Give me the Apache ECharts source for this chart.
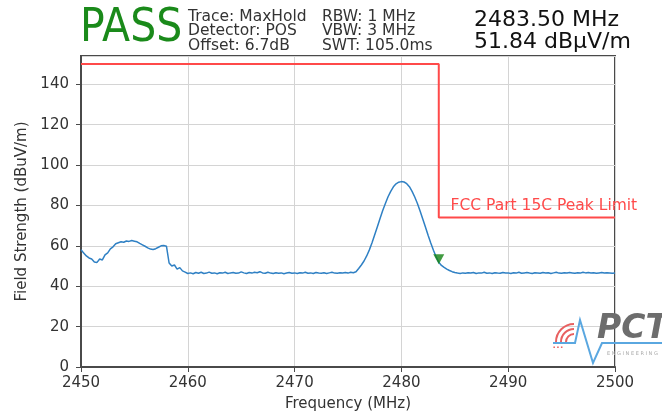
<!DOCTYPE html>
<html>
<head>
<meta charset="utf-8">
<script src="https://cdn.jsdelivr.net/npm/echarts@6/dist/echarts.min.js"></script>
<style>
  html, body { margin: 0; padding: 0; background: #fff; }
  #chart { width: 662px; height: 415px; }
</style>
</head>
<body>
<div id="chart"></div>
<script>
// Sweep settings (MHz)
const freqStart = 2450;
const freqStep = 0.25;

// MaxHold trace levels in dBuV/m, one per sweep point from 2450 to 2500 MHz
const traceLevels = [
  // 2450.00 - 2460.00
  58.0, 56.5, 55.0, 54.0, 53.5, 52.0, 51.8, 53.5, 53.0, 55.5,
  56.5, 58.5, 59.5, 61.0, 61.5, 62.0, 61.8, 62.4, 62.2, 62.6,
  62.3, 62.0, 61.2, 60.5, 59.8, 59.0, 58.4, 58.2, 58.6, 59.3,
  60.0, 60.2, 59.8, 51.5, 50.0, 50.5, 48.5, 49.2, 47.6, 47.0,
  46.3,
  // 2460.25 - 2475.50 noise floor
  46.6, 46.2, 46.8, 46.4, 46.9, 46.3, 46.5, 47.0, 46.4, 46.6,
  46.2, 46.7, 46.5, 46.9, 46.3, 46.6, 46.8, 46.4, 46.5, 47.1,
  46.6, 46.3, 46.8, 46.5, 46.9, 46.7, 47.2, 46.6, 46.4, 46.9,
  46.5, 46.3, 46.7, 46.4, 46.6, 46.2, 46.5, 46.8, 46.4, 46.6,
  46.3, 46.7, 46.5, 46.9, 46.4, 46.6, 46.3, 46.8, 46.5, 46.4,
  46.7, 46.3, 46.6, 46.9, 46.5, 46.4, 46.7, 46.6, 46.8, 46.5,
  46.9, 46.7,
  // 2475.75 - 2485.00 carrier
  47.2, 48.8, 50.5, 52.5, 55.0, 58.0, 61.5, 65.5, 69.5, 73.5,
  77.5, 81.0, 84.3, 87.0, 89.2, 90.7, 91.5, 91.8, 91.6, 90.8,
  89.3, 87.0, 84.2, 81.0, 77.2, 73.3, 69.3, 65.2, 61.4, 57.8,
  54.6, 51.84, 50.3, 49.3, 48.5, 47.8, 47.2, 46.8,
  // 2485.25 - 2500.00 noise floor
  46.5, 46.3, 46.6, 46.4, 46.7, 46.5, 46.8, 46.3, 46.6, 46.5,
  46.9, 46.4, 46.6, 46.3, 46.7, 46.5, 46.4, 46.8, 46.5, 46.6,
  46.3, 46.7, 46.5, 46.9, 46.4, 46.6, 46.8, 46.5, 46.3, 46.7,
  46.6, 46.4, 46.8, 46.5, 46.7, 46.3, 46.6, 46.9, 46.5, 46.4,
  46.7, 46.5, 46.8, 46.6, 46.4, 46.7, 46.5, 46.9, 46.6, 46.8,
  46.5, 46.7, 46.4, 46.6, 46.8, 46.5, 46.7, 46.6, 46.4, 46.6
];

// FCC Part 15C peak limit (restricted band edge at 2483.5 MHz)
const limitFreqs = [2450, 2483.5, 2483.5, 2500];
const limitLevels = [150, 150, 74, 74];
const limitLabel = 'FCC Part 15C Peak Limit';

// Marker reading
const markerFreq = 2483.5;
const markerLevel = 51.84;

// Axis settings
const xTicks = [2450, 2460, 2470, 2480, 2490, 2500];
const yTicks = [0, 20, 40, 60, 80, 100, 120, 140];
const yMax = 154;

// Header texts
const verdict = 'PASS';
const settingsCol1 = ['Trace: MaxHold', 'Detector: POS', 'Offset: 6.7dB'];
const settingsCol2 = ['RBW: 1 MHz', 'VBW: 3 MHz', 'SWT: 105.0ms'];

const traceData = traceLevels.map((v, i) => [freqStart + i * freqStep, v]);
const limitData = limitFreqs.map((f, i) => [f, limitLevels[i]]);

const FONT = 'DejaVu Sans';
const chart = echarts.init(document.getElementById('chart'), null, { renderer: 'canvas' });

const headerGraphics = [
  { type: 'text', x: 80, y: 6, scaleY: 1.12, style: { text: verdict, fill: '#1a8a1a', font: '41px "DejaVu Sans"' } },
  { type: 'text', x: 188, y: 10, style: { text: settingsCol1.join('\n'), fill: '#333', font: '15.5px "DejaVu Sans"', lineHeight: 14.3 } },
  { type: 'text', x: 322, y: 10, style: { text: settingsCol2.join('\n'), fill: '#333', font: '15.5px "DejaVu Sans"', lineHeight: 14.3 } },
  { type: 'text', x: 474, y: 9, style: {
      text: markerFreq.toFixed(2) + ' MHz\n' + markerLevel.toFixed(2) + ' dB\u00b5V/m',
      fill: '#111', font: '22px "DejaVu Sans"', lineHeight: 22 } }
];

// Company watermark in the lower-right corner
const red = '#e86060';
const logoGraphics = [
  { type: 'arc', z: 50, shape: { cx: 574, cy: 342, r: 8, startAngle: Math.PI, endAngle: Math.PI * 1.5 }, style: { stroke: red, lineWidth: 2, fill: null } },
  { type: 'arc', z: 50, shape: { cx: 574, cy: 342, r: 13, startAngle: Math.PI, endAngle: Math.PI * 1.5 }, style: { stroke: red, lineWidth: 2, fill: null } },
  { type: 'arc', z: 50, shape: { cx: 574, cy: 342, r: 18, startAngle: Math.PI, endAngle: Math.PI * 1.5 }, style: { stroke: red, lineWidth: 2, fill: null } },
  { type: 'text', z: 50, x: 553, y: 344, style: { text: '\u25aa \u25aa \u25aa', fill: red, font: '6px sans-serif' } },
  { type: 'polyline', z: 50, shape: { points: [[553, 343], [575, 343], [580, 320], [593, 363], [602, 343], [662, 343]] }, style: { stroke: '#5aa7e0', lineWidth: 2, fill: null } },
  { type: 'text', z: 50, x: 597, y: 313, style: { text: 'PCT', fill: '#6d6d6d', font: 'italic bold 33px "DejaVu Sans"' } },
  { type: 'text', z: 50, x: 607, y: 351, style: { text: 'E N G I N E E R I N G', fill: '#aaa', font: '5px "DejaVu Sans"' } }
];

chart.setOption({
  animation: false,
  backgroundColor: '#fff',
  grid: {
    left: 81, right: 47, top: 56, bottom: 48, outerBoundsMode: 'none',
    show: true, borderColor: '#4a4a4a', borderWidth: 2, backgroundColor: 'transparent'
  },
  xAxis: {
    type: 'value', min: xTicks[0], max: xTicks[xTicks.length - 1], interval: 10,
    name: 'Frequency (MHz)', nameLocation: 'middle', nameGap: 30,
    nameTextStyle: { fontFamily: FONT, fontSize: 15, color: '#333' },
    axisLine: { show: true, lineStyle: { color: '#4a4a4a', width: 2 } },
    axisTick: { show: true, inside: false, length: 5, lineStyle: { color: '#4a4a4a', width: 1 } },
    axisLabel: { fontFamily: FONT, fontSize: 15, color: '#333', margin: 9, formatter: v => String(v) },
    splitLine: { show: true, lineStyle: { color: '#d4d4d4', width: 1 } }
  },
  yAxis: {
    type: 'value', min: 0, max: yMax, interval: 20,
    name: 'Field Strength (dBuV/m)', nameLocation: 'middle', nameGap: 47,
    nameTextStyle: { fontFamily: FONT, fontSize: 15, color: '#333' },
    axisLine: { show: true, lineStyle: { color: '#4a4a4a', width: 2 } },
    axisTick: { show: true, inside: false, length: 5, lineStyle: { color: '#4a4a4a', width: 1 } },
    axisLabel: {
      fontFamily: FONT, fontSize: 15, color: '#333', margin: 12, showMaxLabel: false,
      formatter: v => (yTicks.indexOf(v) >= 0 ? String(v) : '')
    },
    splitLine: { show: true, lineStyle: { color: '#d4d4d4', width: 1 } }
  },
  series: [
    {
      name: 'Limit', type: 'line', data: limitData, symbol: 'none', z: 3,
      lineStyle: { color: '#ff4a4a', width: 2 }
    },
    {
      name: 'MaxHold', type: 'line', data: traceData, symbol: 'none', z: 4,
      lineStyle: { color: '#2f80c4', width: 1.5 }
    },
    {
      name: 'Marker', type: 'scatter', data: [[markerFreq, markerLevel]], z: 5,
      symbol: 'triangle', symbolRotate: 180, symbolSize: [11, 10], symbolOffset: [0, -3],
      itemStyle: { color: '#128212' }
    }
  ],
  graphic: headerGraphics.concat(logoGraphics)
});

// Limit caption placed just right of the band edge, above the lower limit line
const labelPos = chart.convertToPixel({ gridIndex: 0 }, [limitFreqs[2] + 1.1, limitLevels[2] + 2]);
chart.setOption({
  graphic: headerGraphics.concat(logoGraphics).concat([
    { type: 'text', x: labelPos[0], y: labelPos[1], z: 60,
      style: { text: limitLabel, fill: '#ff4a4a', font: '15.5px "DejaVu Sans"', verticalAlign: 'bottom' } }
  ])
});
</script>
</body>
</html>
